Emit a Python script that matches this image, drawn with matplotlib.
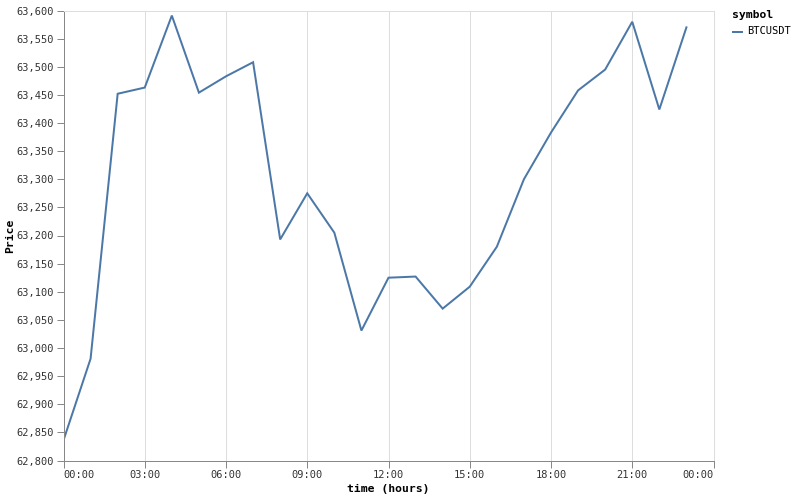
import matplotlib
matplotlib.use("Agg")
import matplotlib.pyplot as plt
from matplotlib.ticker import FuncFormatter, MultipleLocator

hours = list(range(24))
price = [62836, 62981, 63452, 63463, 63591, 63454, 63483, 63508,
         63193, 63275, 63205, 63031, 63125, 63127, 63070, 63109,
         63180, 63300, 63383, 63458, 63495, 63580, 63424, 63570]
xtick_labels = ["00:00", "03:00", "06:00", "09:00", "12:00", "15:00", "18:00", "21:00", "00:00"]
series_name = "BTCUSDT"

plt.rcParams['font.family'] = ['DejaVu Sans Mono']
W, H = 794, 497
fig = plt.figure(figsize=(W / 100, H / 100), dpi=100)
L, T, R, B = 63.5, 10.5, 713.5, 460.5
ax = fig.add_axes([L / W, 1 - B / H, (R - L) / W, (B - T) / H])

PX = 0.72
line_color = "#4c78a8"
ax.plot(hours, price, color=line_color, lw=2 * PX, solid_joinstyle='miter')

ax.set_xlim(0, 24)
ax.set_ylim(62800, 63600)
xt = list(range(0, 25, 3))
ax.set_xticks(xt)
ax.set_xticklabels(xtick_labels)
ax.yaxis.set_major_locator(MultipleLocator(50))
ax.yaxis.set_major_formatter(FuncFormatter(lambda v, p: f"{int(v):,}"))

ax.grid(axis='x', color='#dddddd', lw=PX)
ax.grid(axis='y', visible=False)
ax.set_axisbelow(True)

for s in ['top', 'right']:
    ax.spines[s].set_color('#dddddd')
    ax.spines[s].set_linewidth(PX)
for s in ['left', 'bottom']:
    ax.spines[s].set_color('#888888')
    ax.spines[s].set_linewidth(PX)

ax.tick_params(axis='both', length=5, width=PX, color='#888888', labelsize=7.5, labelcolor='#333333', pad=2)
labels = ax.get_xticklabels()
labels[0].set_horizontalalignment('left')
labels[-1].set_horizontalalignment('right')

ax.set_xlabel("time (hours)", fontsize=8.2, fontweight='bold', labelpad=3)
ax.set_ylabel("Price", fontsize=8.2, fontweight='bold', labelpad=1)

# legend
fig.text(732 / W, 1 - 15 / H, "symbol", fontsize=8.2, fontweight='bold', va='center', ha='left')
fig.add_artist(plt.Line2D([733 / W, 742 / W], [1 - 31.5 / H, 1 - 31.5 / H], color=line_color, lw=2 * PX))
fig.text(747 / W, 1 - 31.5 / H, series_name, fontsize=7.5, va='center', ha='left', color='#000000')

fig.savefig("out.png", dpi=100)
